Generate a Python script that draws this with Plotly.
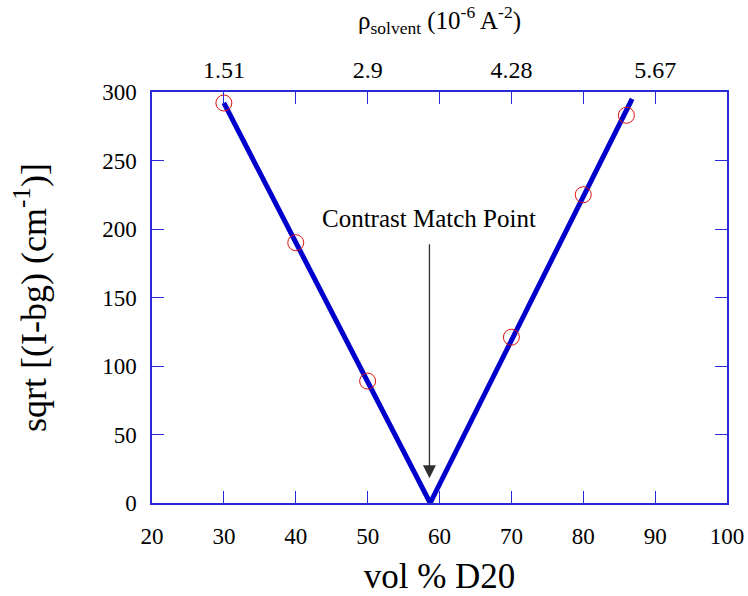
import plotly.graph_objects as go

# data
vol_d2o = [30, 40, 50, 70, 80, 86]
sqrt_i = [292, 190, 89, 121, 225, 283]
fit_left_x = [30, 58.7]
fit_left_y = [292, 0]
fit_right_x = [58.7, 86.8]
fit_right_y = [0, 295]
top_tickvals = [30, 50, 70, 90]
top_ticktext = ["1.51", "2.9", "4.28", "5.67"]
match_x = 58.6
arrow_y_from = 190
arrow_y_to = 18
label_y = 208

FONT = "Liberation Serif"
AX = "#2a2ad8"

fig = go.Figure()
fig.add_trace(go.Scatter(x=fit_left_x, y=fit_left_y, mode="lines",
                         line=dict(color="#0000cc", width=5), showlegend=False))
fig.add_trace(go.Scatter(x=fit_right_x, y=fit_right_y, mode="lines",
                         line=dict(color="#0000cc", width=5), showlegend=False))
fig.add_trace(go.Scatter(x=vol_d2o, y=sqrt_i, mode="markers",
                         marker=dict(symbol="circle-open", size=16, color="#e01010",
                                     line=dict(width=1)), showlegend=False))
# invisible trace for top axis
fig.add_trace(go.Scatter(x=[20, 100], y=[0, 0], xaxis="x2", mode="markers",
                         marker=dict(opacity=0), showlegend=False, hoverinfo="skip"))

fig.add_annotation(x=match_x, y=arrow_y_to, ax=match_x, ay=arrow_y_from,
                   xref="x", yref="y", axref="x", ayref="y",
                   showarrow=True, arrowhead=2, arrowsize=2.0, arrowwidth=1.3,
                   arrowcolor="#303030", text="")
fig.add_annotation(x=match_x, y=label_y, xref="x", yref="y", text="Contrast Match Point",
                   showarrow=False, font=dict(family=FONT, size=25, color="black"))

fig.update_layout(
    width=748, height=596,
    margin=dict(l=152, r=21, t=92, b=93),
    plot_bgcolor="white", paper_bgcolor="white",
    font=dict(family=FONT, color="black"),
    xaxis=dict(range=[20, 100], tickvals=list(range(20, 101, 10)),
               ticks="inside", ticklen=12, tickcolor=AX, tickwidth=1,
               showline=True, linecolor=AX, linewidth=1.5, mirror="ticks",
               showgrid=False, zeroline=False, automargin=False,
               ticklabelstandoff=12,
               tickfont=dict(family=FONT, size=23),
               title=dict(text="vol % D20", font=dict(family=FONT, size=35), standoff=16)),
    xaxis2=dict(range=[20, 100], overlaying="x", side="top",
                tickvals=top_tickvals, ticktext=top_ticktext, ticks="",
                showline=False, showgrid=False, zeroline=False, automargin=False,
                ticklabelstandoff=8,
                tickfont=dict(family=FONT, size=24),
                title=dict(text="ρ<sub>solvent</sub> (10<sup>-6</sup> A<sup>-2</sup>)",
                           font=dict(family=FONT, size=25), standoff=20)),
    yaxis=dict(range=[0, 300], tickvals=list(range(0, 301, 50)),
               ticks="inside", ticklen=12, tickcolor=AX, tickwidth=1,
               showline=True, linecolor=AX, linewidth=1.5, mirror="ticks",
               showgrid=False, zeroline=False, automargin=False,
               ticklabelstandoff=9,
               tickfont=dict(family=FONT, size=23),
               title=dict(text="sqrt [(I-bg) (cm<sup>-1</sup>)]",
                          font=dict(family=FONT, size=36), standoff=45)),
)

fig.write_html("out.html", config={"displayModeBar": False},
               post_script="document.body.style.margin='0';")
